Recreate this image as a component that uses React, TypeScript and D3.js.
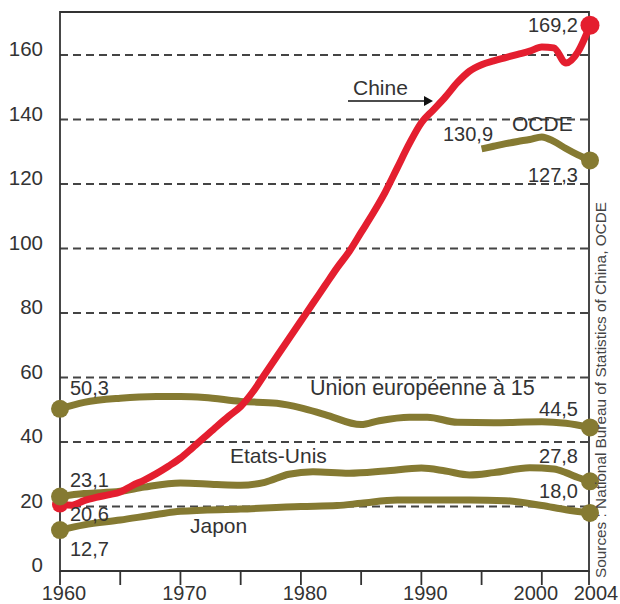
import React from "react";
import * as d3 from "d3";

const W = 620;
const H = 604;

const yTicks = [0, 20, 40, 60, 80, 100, 120, 140, 160];
const gridValues = [20, 40, 60, 80, 100, 120, 140, 160];
const xMajor = [1960, 1970, 1980, 1990, 2000, 2004];
const xMinor = [1965, 1975, 1985, 1995];

const chinaYears = [1960, 1961, 1962, 1963, 1964, 1965, 1966, 1967, 1968, 1969, 1970, 1971, 1972, 1973, 1974, 1975, 1976, 1977, 1978, 1979, 1980, 1981, 1982, 1983, 1984, 1985, 1986, 1987, 1988, 1989, 1990, 1991, 1992, 1993, 1994, 1995, 1996, 1997, 1998, 1999, 2000, 2001, 2002, 2003, 2004];
const chinaValues = [20.6, 20.4, 21.8, 22.8, 23.6, 24.5, 26.5, 28.2, 30.2, 32.5, 35, 38.2, 41.5, 44.8, 48, 51, 55.5, 61, 66.5, 72, 77.5, 83, 88.5, 94, 99, 105, 111, 117.5, 125, 132.5, 139, 143, 147, 151.5, 155, 157, 158.2, 159.2, 160.2, 161.2, 162.5, 162.2, 157.5, 161, 169.2];

const ocdeYears = [1995, 1996, 1997, 1998, 1999, 2000, 2001, 2002, 2003, 2004];
const ocdeValues = [130.9, 131.7, 132.5, 133.2, 133.8, 134.6, 133.2, 131.0, 129.0, 127.3];

const euYears = [1960, 1962, 1965, 1968, 1970, 1972, 1975, 1978, 1980, 1982, 1985, 1986.5, 1989, 1990.5, 1993, 1996, 2000, 2002, 2004];
const euValues = [50.3, 52.3, 53.6, 54.1, 54.1, 53.8, 52.6, 52.0, 50.6, 48.5, 45.4, 46.6, 47.7, 47.7, 46.1, 46.0, 46.3, 45.8, 44.5];

const usYears = [1960, 1962, 1965, 1967, 1970, 1973, 1975, 1977, 1979, 1981, 1984, 1987, 1990, 1992, 1994, 1996, 1999, 2001, 2002, 2003, 2004];
const usValues = [23.1, 24.0, 24.7, 26.0, 27.3, 26.8, 26.6, 27.5, 30.0, 30.8, 30.3, 31.0, 31.9, 31.0, 29.8, 30.5, 32.0, 31.6, 30.5, 29.0, 27.8];

const japanYears = [1960, 1962, 1965, 1968, 1970, 1975, 1980, 1983, 1985, 1988, 1990, 1994, 1997, 2000, 2002, 2004];
const japanValues = [12.7, 14.3, 15.8, 17.5, 18.5, 19.2, 20.0, 20.3, 21.0, 22.0, 22.0, 22.0, 21.8, 20.3, 19.0, 18.0];

const RED = "#e41e2f";
const OLIVE = "#857a32";
const TEXT = "#333333";
const FONT = "'Liberation Sans', Arial, sans-serif";

const margin = { left: 60, right: 589, top: 12, bottom: 571 };

export default function App() {
  const x = d3.scaleLinear().domain([1960, 2004]).range([margin.left, 590]);
  const y = d3.scaleLinear().domain([0, 160]).range([margin.bottom, margin.bottom - 8 * 64.5]);

  const line = d3
    .line<[number, number]>()
    .x((d) => x(d[0]))
    .y((d) => y(d[1]))
    .curve(d3.curveMonotoneX);

  const zip = (a: number[], b: number[]) => a.map((v, i) => [v, b[i]] as [number, number]);

  const china = zip(chinaYears, chinaValues);
  const ocde = zip(ocdeYears, ocdeValues);
  const eu = zip(euYears, euValues);
  const us = zip(usYears, usValues);
  const japan = zip(japanYears, japanValues);
  const olives = [ocde, eu, us, japan];

  const first = (s: [number, number][]) => s[0];
  const last = (s: [number, number][]) => s[s.length - 1];

  const xLabelShift = (v: number) => (v === 2000 ? -6 : v === 2004 ? 6 : 4);

  return (
    <svg width={W} height={H} style={{ position: "absolute", left: 0, top: 0, background: "#fff" }} fontFamily={FONT}>
      <rect x={0} y={0} width={W} height={H} fill="#fff" />
      {/* grid */}
      {gridValues.map((v) => (
        <line key={"g" + v} x1={margin.left} x2={margin.right} y1={y(v)} y2={y(v)} stroke="#444" strokeWidth={1.8} strokeDasharray="8 5" />
      ))}
      {/* frame */}
      <path
        d={`M${margin.left},${margin.bottom} V${margin.top} H${margin.right} V${margin.bottom} Z`}
        fill="none"
        stroke="#333"
        strokeWidth={1.8}
      />
      {/* x ticks */}
      {[...xMajor, ...xMinor].map((v) => (
        <line key={"t" + v} x1={Math.min(x(v), margin.right)} x2={Math.min(x(v), margin.right)} y1={margin.bottom} y2={margin.bottom + 14} stroke="#333" strokeWidth={1.8} />
      ))}
      {/* y labels */}
      {yTicks.map((v) => (
        <text key={"yl" + v} x={43} y={y(v) + 1} textAnchor="end" fontSize={20.5} fill={TEXT}>
          {v}
        </text>
      ))}
      {/* x labels */}
      {xMajor.map((v) => (
        <text key={"xl" + v} x={x(v) + xLabelShift(v)} y={600} textAnchor="middle" fontSize={20} fill={TEXT}>
          {v}
        </text>
      ))}

      {/* olive lines */}
      {olives.map((s, i) => (
        <path key={"ol" + i} d={line(s) || ""} fill="none" stroke={OLIVE} strokeWidth={7} strokeLinejoin="round" />
      ))}
      {/* china */}
      <path d={line(china) || ""} fill="none" stroke={RED} strokeWidth={7} strokeLinejoin="round" />
      <circle cx={x(first(china)[0])} cy={y(first(china)[1])} r={8} fill={RED} />
      {/* olive dots */}
      {[eu, us, japan].map((s, i) => (
        <circle key={"od0" + i} cx={x(first(s)[0])} cy={y(first(s)[1])} r={9} fill={OLIVE} />
      ))}
      {olives.map((s, i) => (
        <circle key={"od1" + i} cx={x(last(s)[0])} cy={y(last(s)[1])} r={9} fill={OLIVE} />
      ))}
      <circle cx={x(last(china)[0])} cy={y(last(china)[1])} r={9.5} fill={RED} />

      {/* labels */}
      <g fill={TEXT} fontSize={20}>
        <text x={578} y={32} textAnchor="end">169,2</text>
        <text x={353} y={95} fontSize={21}>Chine</text>
        <text x={443} y={141}>130,9</text>
        <text x={512} y={131} fontSize={21}>OCDE</text>
        <text x={578} y={182} textAnchor="end">127,3</text>
        <text x={70} y={395}>50,3</text>
        <text x={310} y={395} fontSize={21.5}>Union européenne à 15</text>
        <text x={578} y={416} textAnchor="end">44,5</text>
        <text x={230} y={463} fontSize={21}>Etats-Unis</text>
        <text x={578} y={463} textAnchor="end">27,8</text>
        <text x={70} y={487}>23,1</text>
        <text x={70} y={521}>20,6</text>
        <text x={578} y={498} textAnchor="end">18,0</text>
        <text x={190} y={533} fontSize={21}>Japon</text>
        <text x={70} y={556}>12,7</text>
      </g>
      {/* arrow */}
      <line x1={348} x2={426} y1={101} y2={101} stroke="#111" strokeWidth={1.6} />
      <path d="M424,96 L433,101 L424,106 Z" fill="#111" />

      {/* source */}
      <text
        transform="translate(606,578) rotate(-90)"
        fontSize={14}
        fill="#444"
        textLength={376}
        lengthAdjust="spacingAndGlyphs"
      >
        Sources : National Bureau of Statistics of China, OCDE
      </text>
    </svg>
  );
}
